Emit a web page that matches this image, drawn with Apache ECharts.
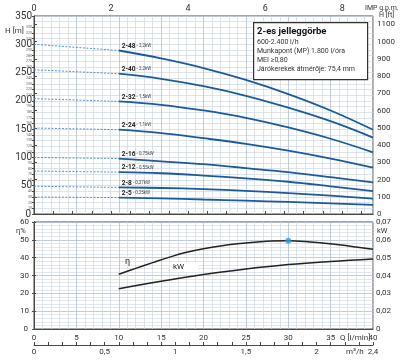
<!DOCTYPE html>
<html><head><meta charset="utf-8">
<script src="https://cdn.jsdelivr.net/npm/echarts@6/dist/echarts.min.js"></script>
<style>html,body{margin:0;padding:0;background:#fff}#c{width:400px;height:364px}</style>
</head><body><div id="c"></div>
<script>
// ---------- data ----------
const qPoints = [10, 15, 20, 25, 30, 35, 40];           // Q [l/min]
const pumpNames = ['2-48', '2-40', '2-32', '2-24', '2-16', '2-12', '2-8', '2-5'];
const pumpPowers = ['2,2kW', '2,2kW', '1,5kW', '1,1kW', '0,75kW', '0,55kW', '0,37kW', '0,25kW'];
const shutoffHead = [300, 255, 204, 152, 100, 76, 49, 30]; // H at Q=0 (dashed)
const head_2_48 = [289, 275, 258, 237, 212, 183, 149];
const head_2_40 = [248, 239, 226, 209, 188, 164, 135];
const head_2_32 = [199, 193, 183, 170, 153, 133, 109];
const head_2_24 = [149, 143, 134, 124, 112, 98, 82];
const head_2_16 = [98, 93, 88, 81, 74, 65, 56];
const head_2_12 = [74, 72, 68, 63, 57, 49, 40.5];
const head_2_8  = [47, 46, 44, 41, 37, 32.5, 27];
const head_2_5  = [29, 27.5, 25.6, 23.6, 21.3, 18.8, 16];
const heads = [head_2_48, head_2_40, head_2_32, head_2_24, head_2_16, head_2_12, head_2_8, head_2_5];

const effQ   = [10, 12, 14, 16, 18, 20, 22, 24, 26, 28, 30, 32, 34, 36, 38, 40];
const effPct = [30.7, 34.0, 37.2, 40.3, 43.0, 45.0, 46.6, 47.8, 48.7, 49.3, 49.5, 49.1, 48.2, 47.2, 46.0, 44.7];
const powerQ  = [10, 15, 20, 25, 30, 35, 40];
const powerKW = [0.0326, 0.0368, 0.0406, 0.0436, 0.0461, 0.0479, 0.0493];
const bepQ = [30];
const bepEff = [49.5];

const gpmLabels = [0, 2, 4, 6, 8];
const m3hLabels = ['0', '0,5', '1', '1,5', '2', '2,4'];
const kwLabels = { 1: '0', 2: '0,02', 3: '0,03', 4: '0,04', 5: '0,05', 6: '0,06', 7: '0,07' };
const infoLines = ['600-2.400 l/h', 'Munkapont (MP) 1.800 l/óra', 'MEI ≥0,80', 'Járókerekek átmérője: 75,4 mm'];

// ---------- chart ----------
const FONT = "'Liberation Sans Narrow', 'Roboto', 'Liberation Sans', sans-serif";
const AX = '#4a4a4a', MINOR = '#d0d9e4', MAJOR = '#b3c1d2', BLUE = '#1c5a9c';
const chart = echarts.init(document.getElementById('c'), null, { renderer: 'canvas' });

const series = [];
heads.forEach((h, i) => {
  const data = qPoints.map((q, j) => [q, h[j]]);
  data[0] = {
    value: data[0],
    label: {
      show: true, position: [3, -8],
      formatter: '{a|' + pumpNames[i] + '}{b| - ' + pumpPowers[i] + '}',
      rich: {
        a: { fontFamily: FONT, fontSize: 6.5, fontWeight: 'bold', color: '#222' },
        b: { fontFamily: FONT, fontSize: 4.5, color: '#444' }
      }
    }
  };
  series.push({
    type: 'line', xAxisIndex: 0, yAxisIndex: 0, smooth: 0.4,
    symbol: 'circle', symbolSize: 0, showSymbol: true,
    lineStyle: { color: BLUE, width: 1.8 }, itemStyle: { color: BLUE },
    data: data, z: 3, animation: false, silent: true
  });
  series.push({
    type: 'line', xAxisIndex: 0, yAxisIndex: 0, symbol: 'none',
    lineStyle: { color: '#4a86c6', width: 0.9, type: [2, 1.5] },
    data: [[0, shutoffHead[i]], [qPoints[0], h[0]]], z: 2, animation: false, silent: true
  });
});
series.push({
  type: 'line', xAxisIndex: 2, yAxisIndex: 2, smooth: 0.4, symbol: 'none',
  lineStyle: { color: '#222', width: 1.5 },
  data: effQ.map((q, j) => [q, effPct[j]]), animation: false, silent: true
});
series.push({
  type: 'line', xAxisIndex: 2, yAxisIndex: 3, smooth: 0.4, symbol: 'none',
  lineStyle: { color: '#222', width: 1.5 },
  data: powerQ.map((q, j) => [q, powerKW[j]]), animation: false, silent: true
});
series.push({
  type: 'scatter', xAxisIndex: 2, yAxisIndex: 2, symbolSize: 6,
  itemStyle: { color: '#2f9ee0' }, data: bepQ.map((q, j) => [q, bepEff[j]]),
  z: 5, animation: false, silent: true
});

const gpmMax = 40 / 4.54609;
const ftMax = 350 * 3.28084;

function zeroText(x, y, align, size) {
  return { type: 'text', x: x, y: y, z: 10,
    style: { text: '0', font: size + 'px ' + FONT, fill: '#333', align: align, verticalAlign: 'middle' } };
}

const option = {
  animation: false,
  textStyle: { fontFamily: FONT },
  grid: [
    { left: 34, top: 16, width: 339, height: 198, show: true, borderColor: AX, borderWidth: 1 },
    { left: 34, top: 222, width: 339, height: 107, show: true, borderColor: AX, borderWidth: 1 }
  ],
  xAxis: [
    { gridIndex: 0, type: 'value', min: 0, max: 40, interval: 5, position: 'bottom',
      axisLine: { show: true, lineStyle: { color: AX } }, axisTick: { show: false }, axisLabel: { show: false },
      splitLine: { show: true, lineStyle: { color: MAJOR, width: 0.8 } },
      minorTick: { show: false, splitNumber: 5 },
      minorSplitLine: { show: true, lineStyle: { color: MINOR, width: 0.7 } } },
    { gridIndex: 0, type: 'value', min: 0, max: gpmMax, interval: 0.5, position: 'top',
      axisLine: { show: true, lineStyle: { color: AX } },
      axisTick: { show: true, length: 3, lineStyle: { color: AX } },
      axisLabel: { margin: 3, fontSize: 9, color: '#333', showMaxLabel: false, showMinLabel: true,
        formatter: v => { const r = Math.round(v * 10) / 10; return gpmLabels.indexOf(r) >= 0 ? String(r) : ''; } },
      splitLine: { show: false } },
    { gridIndex: 1, type: 'value', min: 0, max: 40, interval: 5, position: 'bottom',
      axisLine: { show: true, lineStyle: { color: AX } }, axisTick: { show: false },
      axisLabel: { margin: 5, fontSize: 8, color: '#333', showMinLabel: true, showMaxLabel: true },
      splitLine: { show: true, lineStyle: { color: MAJOR, width: 0.8 } },
      minorTick: { show: false, splitNumber: 5 },
      minorSplitLine: { show: true, lineStyle: { color: MINOR, width: 0.7 } } },
    { gridIndex: 1, type: 'value', min: 0, max: 2.4, interval: 0.1, position: 'bottom', offset: 16,
      axisLine: { show: true, lineStyle: { color: AX } },
      axisTick: { show: true, inside: true, length: 3, lineStyle: { color: AX } },
      axisLabel: { margin: 3, fontSize: 8, color: '#333', showMaxLabel: true, showMinLabel: true,
        formatter: v => { const k = Math.round(v * 10);
          if (k % 5 === 0) return m3hLabels[k / 5];
          if (k === 24) return m3hLabels[5];
          return ''; } },
      splitLine: { show: false } }
  ],
  yAxis: [
    { gridIndex: 0, type: 'value', min: 0, max: 350, interval: 10, position: 'left',
      axisLine: { show: true, lineStyle: { color: AX } },
      axisTick: { show: true, length: 2, lineStyle: { color: AX } },
      axisLabel: { margin: 2, showMaxLabel: true, showMinLabel: true, color: '#333',
        formatter: v => (v === 0 ? '' : v % 50 === 0 ? '{big|' + v + '}' : '{sm|' + v + '}'),
        rich: { big: { fontFamily: FONT, fontSize: 10, color: '#333' },
                sm: { fontFamily: FONT, fontSize: 3.6, color: '#666' } } },
      splitLine: { show: true, lineStyle: { color: MINOR, width: 0.7 } } },
    { gridIndex: 0, type: 'value', min: 0, max: ftMax, interval: 100, position: 'right',
      axisLine: { show: true, lineStyle: { color: AX } },
      axisTick: { show: true, length: 3, lineStyle: { color: AX } },
      axisLabel: { margin: 4, fontSize: 8, color: '#333', showMinLabel: true, showMaxLabel: false,
        formatter: v => (v > 1 && Math.abs(v - Math.round(v / 100) * 100) < 0.01 ? String(Math.round(v)) : '') },
      splitLine: { show: false } },
    { gridIndex: 1, type: 'value', min: 0, max: 60, interval: 10, position: 'left',
      axisLine: { show: true, lineStyle: { color: AX } },
      axisTick: { show: true, length: 2, lineStyle: { color: AX } },
      axisLabel: { margin: 5, fontSize: 8, color: '#333', showMinLabel: true, showMaxLabel: true,
        formatter: v => (v === 0 ? '' : String(v)) },
      splitLine: { show: true, lineStyle: { color: MAJOR, width: 0.8 } },
      minorTick: { show: false, splitNumber: 5 },
      minorSplitLine: { show: true, lineStyle: { color: MINOR, width: 0.6 } } },
    { gridIndex: 1, type: 'value', min: 0.01, max: 0.07, interval: 0.01, position: 'right',
      axisLine: { show: true, lineStyle: { color: AX } },
      axisTick: { show: true, length: 2, lineStyle: { color: AX } },
      axisLabel: { margin: 3, fontSize: 8, color: '#333', showMinLabel: true, showMaxLabel: true,
        formatter: v => (Math.round(v * 100) === 1 ? '' : (kwLabels[Math.round(v * 100)] || '')) },
      splitLine: { show: false } }
  ],
  graphic: [
    zeroText(31, 214, 'right', 10),
    zeroText(377, 214, 'left', 8),
    zeroText(28, 329, 'right', 8),
    zeroText(376, 329, 'left', 8),
    { type: 'text', left: 5, top: 27, style: { text: 'H [m]', font: '8px ' + FONT, fill: '#333' } },
    { type: 'text', left: 365, top: 5, style: { text: 'IMP g.p.m.', font: '7px ' + FONT, fill: '#333' } },
    { type: 'text', left: 379, top: 12, style: { text: 'H [ft]', font: '7px ' + FONT, fill: '#333' } },
    { type: 'text', left: 16, top: 227, style: { text: 'η%', font: '7.5px ' + FONT, fill: '#333' } },
    { type: 'text', left: 377, top: 227, style: { text: 'kW', font: '7.5px ' + FONT, fill: '#333' } },
    { type: 'text', left: 340, top: 334, style: { text: 'Q [l/min]', font: '8px ' + FONT, fill: '#333' } },
    { type: 'text', left: 346, top: 348, style: { text: 'm³/h', font: '8px ' + FONT, fill: '#333' } },
    { type: 'text', left: 125, top: 257, z: 10, style: { text: 'η', font: '9px ' + FONT, fill: '#222' } },
    { type: 'text', left: 170, top: 262, z: 10, style: { text: 'kW   ', font: '8px ' + FONT, fill: '#222',
        backgroundColor: '#fff', padding: [1, 8, 1, 3] } },
    { type: 'rect', left: 253, top: 22, z: 10, shape: { width: 114, height: 57 },
      style: { fill: '#fff', stroke: '#333', lineWidth: 1.2 } },
    { type: 'text', left: 257, top: 27, z: 11, style: { text: '2-es jelleggörbe', font: 'bold 9.5px ' + FONT, fill: '#111' } },
    ...infoLines.map((t, i) => ({ type: 'text', left: 257, top: 39 + i * 9, z: 11,
      style: { text: t, font: '7px ' + FONT, fill: '#333' } }))
  ],
  series: series
};
chart.setOption(option);
</script>
</body></html>
